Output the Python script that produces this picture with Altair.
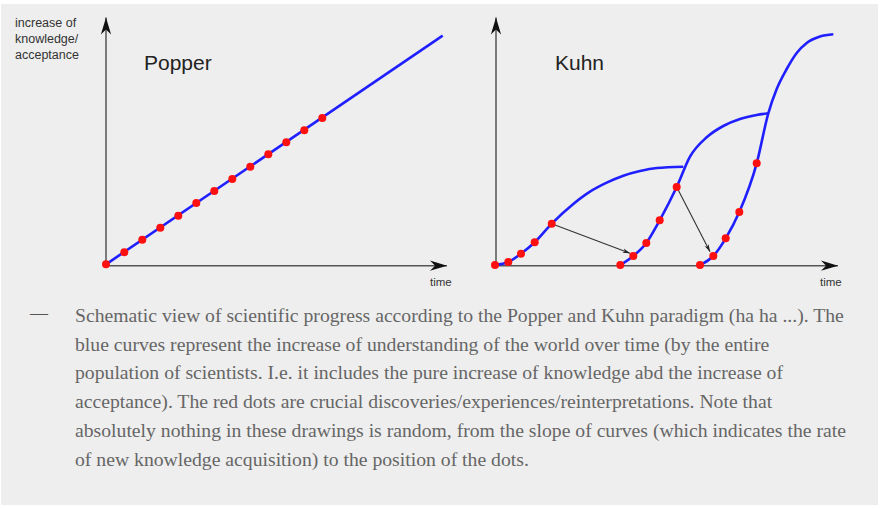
import altair as alt
import pandas as pd

W, H = 880, 508

# ---- Popper panel (x = time position, y = position from top)
popper_line_x = [106, 442.7]
popper_line_y = [264.3, 35.7]
popper_dot_x = [106, 124.3, 142.3, 160.3, 178.3, 196.3, 214.3, 232.3, 250.3, 268.3, 286.3, 304.3, 322.3]
popper_dot_y = [264.3, 252.3, 239.7, 227.7, 215.7, 203, 191, 179, 166.7, 154.3, 142.3, 130.3, 118]

# ---- Kuhn panel: three paradigm curves
kuhn1_x = [495, 508.3, 521, 534.7, 551.7, 573.3, 590, 606.7, 623.3, 640, 656.7, 683.3]
kuhn1_y = [265, 262, 253.7, 242.3, 223.7, 204, 191.7, 182.7, 175.7, 171, 168, 166.7]
kuhn2_x = [620.3, 633.3, 646.3, 659.7, 676.7, 690, 706.7, 723.3, 740, 756.7, 768.3]
kuhn2_y = [265, 256, 243, 220.3, 187, 156.7, 137.3, 126, 119, 115, 113.3]
kuhn3_x = [700, 713.3, 725.7, 739.3, 756.7, 768.3, 776.7, 786.7, 796.7, 806.7, 820, 833.3]
kuhn3_y = [265, 256, 238.3, 212, 163.3, 113.3, 89, 69, 53, 43, 36.5, 34.3]
kuhn_dot_x = [495, 508.3, 521, 534.7, 551.7, 620.3, 633.3, 646.3, 659.7, 676.7, 700, 713.3, 725.7, 739.3, 756.7]
kuhn_dot_y = [265, 262, 253.7, 242.3, 223.7, 265, 256, 243, 220.3, 187, 265, 256, 238.3, 212, 163.3]

# paradigm-shift arrows (start -> end)
shift_x = [551.7, 676.7]
shift_y = [223.7, 187]
shift_x2 = [630, 710]
shift_y2 = [253.3, 251.7]
shift_angle = [110.7, 152.8]

# axes (origin -> arrow tip)
axis_x = [106, 106, 496, 496]
axis_y = [265.7, 265.7, 265.7, 265.7]
axis_x2 = [106, 447, 496, 838]
axis_y2 = [17.5, 265.7, 17.5, 265.7]
axis_angle = [0, 90, 0, 90]

# texts
ylabel_lines = ["increase of", "knowledge/", "acceptance"]
ylabel_y = [27, 43, 59]
panel_titles = ["Popper", "Kuhn"]
panel_title_x = [144, 555]
time_labels = ["time", "time"]
time_x = [430, 820]
caption_lines = [
    "Schematic view of scientific progress according to the Popper and Kuhn paradigm (ha ha ...). The",
    "blue curves represent the increase of understanding of the world over time (by the entire",
    "population of scientists. I.e. it includes the pure increase of knowledge abd the increase of",
    "acceptance). The red dots are crucial discoveries/experiences/reinterpretations. Note that",
    "absolutely nothing in these drawings is random, from the slope of curves (which indicates the rate",
    "of new knowledge acquisition) to the position of the dots.",
]
caption_y = [322, 351, 379, 408, 437, 466]

BLUE = "#1f1fff"
RED = "#ff1010"
ARROW = "M0,0 L-0.6,2 L0,1.4 L0.6,2 Z"

xs = alt.Scale(domain=[0, W], nice=False, zero=False)
ys = alt.Scale(domain=[0, H], nice=False, zero=False, reverse=True)


def X(f="x"):
    return alt.X(f"{f}:Q", scale=xs, axis=None)


def Y(f="y"):
    return alt.Y(f"{f}:Q", scale=ys, axis=None)


bg = alt.Chart(pd.DataFrame({"x": [1], "y": [4], "x2": [878], "y2": [505]})).mark_rect(
    color="#eeeeee"
).encode(x=X(), y=Y(), x2="x2:Q", y2="y2:Q")

axis_df = pd.DataFrame({"x": axis_x, "y": axis_y, "x2": axis_x2, "y2": axis_y2, "angle": axis_angle})
axes = alt.Chart(axis_df).mark_rule(color="#555555", strokeWidth=1.5).encode(
    x=X(), y=Y(), x2="x2:Q", y2="y2:Q"
)
axis_heads = alt.Chart(axis_df).mark_point(
    shape=ARROW, filled=True, color="#111111", opacity=1, size=289, strokeWidth=0
).encode(x=X("x2"), y=Y("y2"), angle=alt.Angle("angle:Q", scale=None))

rows = []
for cid, (cx, cy) in enumerate(
    [(popper_line_x, popper_line_y), (kuhn1_x, kuhn1_y), (kuhn2_x, kuhn2_y), (kuhn3_x, kuhn3_y)]
):
    for i, (a, b) in enumerate(zip(cx, cy)):
        rows.append({"curve": cid, "i": i, "x": a, "y": b})
curves = alt.Chart(pd.DataFrame(rows)).mark_line(
    color=BLUE, strokeWidth=2.6, interpolate="monotone"
).encode(x=X(), y=Y(), detail="curve:N", order="i:Q")

shift_df = pd.DataFrame({"x": shift_x, "y": shift_y, "x2": shift_x2, "y2": shift_y2, "angle": shift_angle})
shifts = alt.Chart(shift_df).mark_rule(color="#333333", strokeWidth=1.1).encode(
    x=X(), y=Y(), x2="x2:Q", y2="y2:Q"
)
shift_heads = alt.Chart(shift_df).mark_point(
    shape=ARROW, filled=True, color="#222222", opacity=1, size=56, strokeWidth=0
).encode(x=X("x2"), y=Y("y2"), angle=alt.Angle("angle:Q", scale=None))

dots_df = pd.DataFrame({"x": popper_dot_x + kuhn_dot_x, "y": popper_dot_y + kuhn_dot_y})
dots = alt.Chart(dots_df).mark_circle(color=RED, opacity=1, size=64).encode(x=X(), y=Y())

ylab = alt.Chart(pd.DataFrame({"x": [15] * 3, "y": ylabel_y, "t": ylabel_lines})).mark_text(
    align="left", baseline="alphabetic", font="Liberation Sans", fontSize=12.5, color="#333333"
).encode(x=X(), y=Y(), text="t:N")

titles = alt.Chart(pd.DataFrame({"x": panel_title_x, "y": [70, 70], "t": panel_titles})).mark_text(
    align="left", baseline="alphabetic", font="Liberation Sans", fontSize=21, color="#222222"
).encode(x=X(), y=Y(), text="t:N")

times = alt.Chart(pd.DataFrame({"x": time_x, "y": [286, 286], "t": time_labels})).mark_text(
    align="left", baseline="alphabetic", font="Liberation Sans", fontSize=11.5, color="#333333"
).encode(x=X(), y=Y(), text="t:N")

dash = alt.Chart(pd.DataFrame({"x": [30], "y": [319], "t": ["—"]})).mark_text(
    align="left", baseline="alphabetic", font="Liberation Serif", fontSize=18, color="#555555"
).encode(x=X(), y=Y(), text="t:N")

caption = alt.Chart(pd.DataFrame({"x": [75] * 6, "y": caption_y, "t": caption_lines})).mark_text(
    align="left", baseline="alphabetic", font="Liberation Serif", fontSize=19.7, color="#666666"
).encode(x=X(), y=Y(), text="t:N")

chart = alt.layer(
    bg, axes, axis_heads, curves, shifts, shift_heads, dots, ylab, titles, times, dash, caption
).properties(
    width=W, height=H, autosize=alt.AutoSizeParams(type="none"), padding=0, background="white"
).configure_view(stroke=None)

chart.save("out.html", embed_options={"renderer": "svg", "actions": False})
